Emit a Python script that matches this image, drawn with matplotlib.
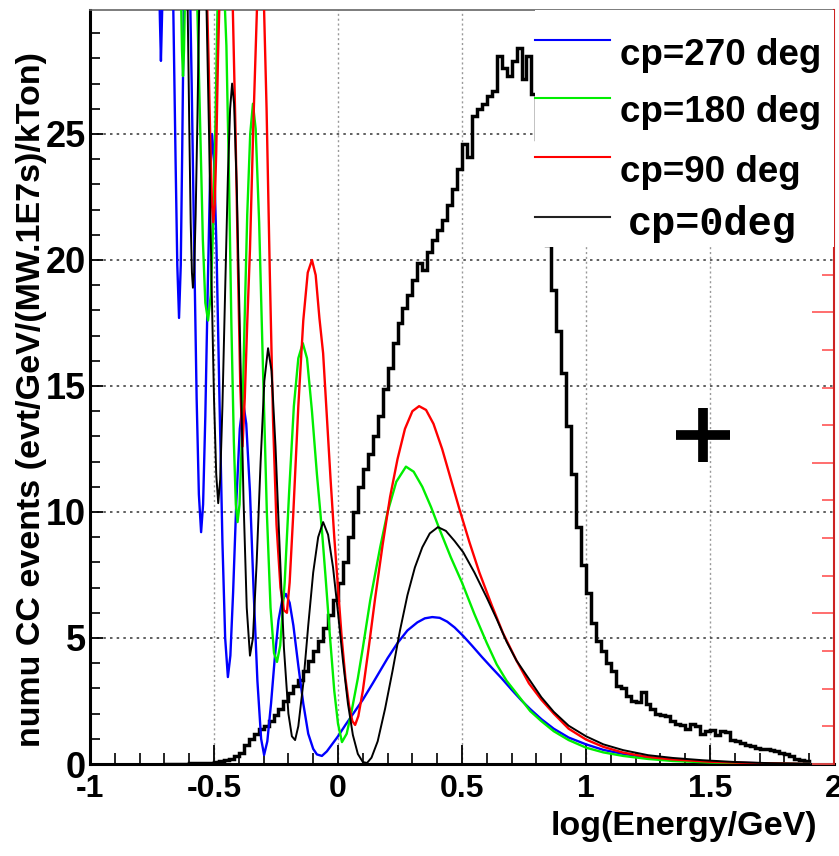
import matplotlib
matplotlib.use("Agg")
import matplotlib.pyplot as plt
import numpy as np
from matplotlib.ticker import MultipleLocator, FuncFormatter
from matplotlib.patches import Rectangle
from matplotlib.lines import Line2D

plt.rcParams['font.family'] = ['Liberation Sans', 'DejaVu Sans']
plt.rcParams['font.weight'] = 'bold'

# ---- data ----
# black step histogram (unoscillated numu CC rate), bins of 0.02 starting at -0.70
hist_start = -0.70
hist_width = 0.02
hist_vals = [
    0.0, 0.0, 0.0, 0.01, 0.01, 0.02, 0.02, 0.03, 0.04, 0.05,
    0.08, 0.1, 0.15, 0.2, 0.3, 0.45, 0.75, 1.0, 1.2, 1.4,
    1.5, 1.7, 1.95, 2.2, 2.5, 2.8, 3.1, 3.35, 3.7, 4.1,
    4.5, 4.9, 5.4, 5.9, 6.5, 7.2, 8.0, 9.0, 10.0, 11.0,
    11.7, 12.3, 13.0, 13.8, 14.9, 15.7, 16.7, 17.5, 18.1, 18.6,
    19.2, 19.9, 19.6, 20.3, 20.8, 21.2, 21.6, 22.2, 22.8, 23.6,
    24.6, 24.1, 25.7, 26.0, 26.2, 26.5, 26.7, 28.1, 27.6, 27.3,
    27.9, 28.4, 27.2, 28.1, 26.6, 24.8, 23.0, 20.6, 18.8, 17.2,
    15.5, 13.4, 11.5, 9.4, 7.9, 6.8, 5.6, 4.9, 4.5, 4.0,
    3.7, 3.1, 3.0, 2.7, 2.5, 2.45, 2.85, 2.4, 2.2, 2.0,
    1.95, 1.9, 1.7, 1.6, 1.55, 1.4, 1.6, 1.5, 1.2, 1.3,
    1.35, 1.15, 1.3, 1.25, 0.95, 0.9, 0.85, 0.75, 0.7, 0.65,
    0.6, 0.6, 0.55, 0.5, 0.45, 0.38, 0.3, 0.2, 0.15, 0.1,
]

# cp=270 deg (blue)
x270 = [-0.73, -0.722, -0.718, -0.714, -0.710, -0.705, -0.69,
        -0.675, -0.664, -0.655, -0.648, -0.641, -0.634, -0.628, -0.622, -0.61,
        -0.598, -0.59, -0.58, -0.57, -0.561, -0.552, -0.544, -0.535, -0.525, -0.516,
        -0.508, -0.5, -0.49, -0.478, -0.466, -0.455, -0.444, -0.434, -0.423, -0.41,
        -0.396, -0.383, -0.37, -0.355, -0.34, -0.325, -0.31, -0.298, -0.285, -0.27,
        -0.255, -0.24, -0.225, -0.21, -0.195, -0.18, -0.16, -0.14, -0.12, -0.1,
        -0.085, -0.065, -0.045, -0.03, 0.0, 0.03, 0.065, 0.1, 0.14, 0.17,
        0.2, 0.24, 0.28, 0.32, 0.35, 0.38, 0.41, 0.44, 0.47, 0.505,
        0.54, 0.58, 0.62, 0.66, 0.7, 0.74, 0.775, 0.82, 0.87, 0.93,
        1.0, 1.07, 1.15, 1.25, 1.35, 1.47, 1.6, 1.75, 1.9]
y270 = [33, 31.5, 29.5, 27.9, 29.5, 31.5, 34,
        33, 29.9, 24, 19.8, 17.7, 19.8, 24.5, 29.9, 33,
        31.5, 27, 20.5, 14.5, 10.7, 9.2, 10.3, 13.8, 19, 23.2,
        25.0, 24, 20.5, 14.5, 8.8, 5.0, 3.45, 4.3, 6.8, 10.4,
        13.3, 14.4, 13.5, 10.8, 6.8, 3.3, 1.0, 0.36, 0.9, 2.4,
        4.2, 5.7, 6.5, 6.75, 6.4, 5.5, 3.9, 2.4, 1.2, 0.6,
        0.38, 0.32, 0.5, 0.7, 1.1, 1.55, 2.05, 2.55, 3.2, 3.7,
        4.2, 4.8, 5.3, 5.62, 5.78, 5.83, 5.8, 5.65, 5.42, 5.08,
        4.7, 4.25, 3.82, 3.4, 2.95, 2.52, 2.18, 1.78, 1.4, 1.05,
        0.78, 0.56, 0.4, 0.26, 0.17, 0.1, 0.05, 0.02, 0.0]

# cp=180 deg (green)
x180 = [-0.73, -0.64, -0.633, -0.629, -0.625, -0.621, -0.617, -0.6,
        -0.58, -0.567, -0.555, -0.545, -0.535, -0.524, -0.513, -0.503, -0.494, -0.486,
        -0.47, -0.458, -0.45, -0.44, -0.43, -0.42, -0.412, -0.405, -0.397, -0.388,
        -0.378, -0.366, -0.354, -0.343, -0.332, -0.318, -0.302, -0.287, -0.272, -0.258,
        -0.246, -0.233, -0.215, -0.197, -0.178, -0.16, -0.142, -0.125, -0.105, -0.085,
        -0.065, -0.05, -0.032, -0.015, 0.0, 0.016, 0.035, 0.055, 0.08, 0.1,
        0.13, 0.17, 0.2, 0.235, 0.274, 0.305, 0.34, 0.375, 0.41, 0.455,
        0.5, 0.55, 0.6, 0.64, 0.68, 0.72, 0.775, 0.82, 0.87, 0.93,
        1.0, 1.07, 1.15, 1.25, 1.35, 1.5, 1.65, 1.9]
y180 = [34, 33, 30.5, 28.3, 27.3, 28.3, 30.5, 33,
        31.5, 29.9, 25, 20.8, 18.3, 17.6, 18.6, 21.5, 25.5, 29.9,
        31.5, 30.5, 28.5, 23.5, 17.5, 12.8, 10.3, 9.6, 10.3, 12.8,
        17, 21.8, 25.0, 26.2, 25.2, 21.5, 15.5, 10, 6.2, 4.4,
        4.05, 4.7, 7.2, 10.8, 14.2, 16.1, 16.7, 16.1, 14.0, 11.5,
        9.3, 7.4, 5.0, 2.9, 1.6, 0.87, 1.2, 2.1, 3.4, 4.6,
        6.5, 8.6, 10.0, 11.2, 11.8, 11.6, 11.0, 10.2, 9.3, 8.2,
        7.2, 5.95, 4.8, 3.95, 3.3, 2.8, 2.1, 1.7, 1.3, 0.95,
        0.65, 0.46, 0.32, 0.2, 0.12, 0.06, 0.03, 0.0]

# cp=90 deg (red)
x90 = [-0.73, -0.56, -0.53, -0.522, -0.514, -0.508, -0.503, -0.497, -0.491, -0.484,
       -0.476, -0.455, -0.435, -0.424, -0.413, -0.403, -0.394, -0.385, -0.376, -0.366,
       -0.355, -0.341, -0.327, -0.313, -0.298, -0.288, -0.275, -0.262, -0.248, -0.232,
       -0.218, -0.206, -0.195, -0.18, -0.16, -0.14, -0.122, -0.105, -0.09, -0.075,
       -0.06, -0.045, -0.03, -0.015, 0.0, 0.015, 0.03, 0.045, 0.058, 0.069,
       0.082, 0.1, 0.125, 0.15, 0.18, 0.21, 0.24, 0.27, 0.3, 0.327,
       0.355, 0.385, 0.42, 0.455, 0.49, 0.53, 0.57, 0.62, 0.665, 0.72,
       0.77, 0.82, 0.87, 0.93, 1.0, 1.07, 1.15, 1.25, 1.35, 1.5,
       1.65, 1.9]
y90 = [36, 35, 31, 28, 24.3, 22.2, 21.5, 22.2, 24.3, 28,
       31, 33, 31.5, 29.9, 25, 19.5, 15, 12.6, 14.5, 17.5,
       20.4, 25.5, 29.9, 31.5, 29.9, 26, 19.5, 13.65, 9.5, 7.0,
       6.1, 6.0, 7.2, 10.0, 14.2, 17.6, 19.5, 20.0, 19.4, 17.7,
       16.3, 13.8, 11.3, 9.0, 7.0, 5.0, 3.4, 2.3, 1.7, 1.55,
       1.9, 2.9, 4.7, 6.6, 8.7, 10.6, 12.1, 13.3, 14.0, 14.2,
       14.05, 13.5, 12.5, 11.3, 10.1, 8.8, 7.6, 6.3, 5.2, 4.1,
       3.2, 2.55, 2.0, 1.4, 0.97, 0.68, 0.45, 0.28, 0.18, 0.09,
       0.04, 0.0]

# cp=0 deg (black, smooth)
x0 = [-0.73, -0.62, -0.606, -0.6, -0.594, -0.589, -0.585, -0.58, -0.574, -0.567,
      -0.56, -0.545, -0.53, -0.52, -0.51, -0.5, -0.491, -0.483, -0.475, -0.466,
      -0.455, -0.444, -0.435, -0.427, -0.419, -0.408, -0.395, -0.381, -0.368, -0.355,
      -0.343, -0.328, -0.312, -0.297, -0.282, -0.268, -0.252, -0.235, -0.218, -0.2,
      -0.186, -0.173, -0.16, -0.14, -0.12, -0.1, -0.08, -0.06, -0.04, -0.02,
      0.0, 0.02, 0.04, 0.06, 0.08, 0.1, 0.117, 0.135, 0.16, 0.19,
      0.22, 0.25, 0.28, 0.31, 0.34, 0.37, 0.403, 0.435, 0.47, 0.505,
      0.55, 0.6, 0.64, 0.68, 0.72, 0.775, 0.82, 0.87, 0.93, 1.0,
      1.07, 1.15, 1.25, 1.35, 1.47, 1.6, 1.75, 1.9]
y0 = [35, 33, 29.9, 25.5, 21.5, 19.5, 18.9, 19.5, 21.8, 25.5,
      29.9, 32, 29.9, 25, 19.2, 14.5, 11.5, 10.35, 11.3, 14.2,
      18.8, 23.3, 26.0, 27.0, 26.2, 22.8, 16.8, 10.5, 6.2, 4.3,
      5.0, 8.0, 12.0, 15.2, 16.5, 15.6, 12.6, 8.5, 4.6, 2.0,
      1.1, 0.95, 1.5, 3.2, 5.5, 7.6, 9.0, 9.6, 9.1, 7.8,
      6.0, 4.1, 2.4, 1.15, 0.4, 0.08, 0.04, 0.25, 0.9, 2.2,
      3.7, 5.3, 6.7, 7.8, 8.6, 9.15, 9.4, 9.25, 8.85, 8.4,
      7.6, 6.6, 5.75, 4.85, 4.1, 3.3, 2.65, 2.07, 1.52, 1.1,
      0.78, 0.55, 0.35, 0.24, 0.15, 0.08, 0.03, 0.0]

labels = ["cp=270 deg", "cp=180 deg", "cp=90 deg", "cp=0deg"]
colors = ["#0000ff", "#00ee00", "#ff0000", "#222222"]

# ---- figure ----
fig = plt.figure(figsize=(8.39, 8.56), dpi=100)
ax = fig.add_axes([90 / 839, 92 / 856, 744 / 839, 754 / 856])

edges = hist_start + hist_width * np.arange(len(hist_vals) + 1)
ax.stairs(hist_vals, edges, color="black", lw=2.5, zorder=3)

ax.plot(x270, y270, color=colors[0], lw=1.7, zorder=4)
ax.plot(x180, y180, color=colors[1], lw=1.7, zorder=4)
ax.plot(x90, y90, color=colors[2], lw=1.7, zorder=4)
ax.plot(x0, y0, color="black", lw=1.4, zorder=4)

# the big cross
ax.plot([1.47], [13.05], marker="+", ms=39, mew=7, color="black", zorder=4)

ax.set_xlim(-1, 2)
ax.set_ylim(0, 29.92)

ax.xaxis.set_major_locator(MultipleLocator(0.5))
ax.xaxis.set_minor_locator(MultipleLocator(0.1))
ax.yaxis.set_major_locator(MultipleLocator(5))
ax.yaxis.set_minor_locator(MultipleLocator(1))
ax.xaxis.set_major_formatter(FuncFormatter(lambda v, p: f"{v:g}"))

ax.tick_params(axis="x", which="major", direction="in", length=14, width=1.3,
               labelsize=23, pad=7, top=False)
ax.tick_params(axis="x", which="minor", direction="in", length=8, width=1.2, top=False)
ax.tick_params(axis="y", which="major", direction="in", length=9, width=1.3,
               labelsize=26, pad=3, right=False)
ax.tick_params(axis="y", which="minor", direction="in", length=7, width=1.2, right=False)

ax.xaxis.grid(True, which="major", color="#999999", ls=(0, (1.5, 2)), lw=1.0)
ax.yaxis.grid(True, which="major", color="#444444", ls=(0, (1.5, 2.5)), lw=1.2)

for s in ["left", "bottom"]:
    ax.spines[s].set_linewidth(2.2)
ax.spines["top"].set_color("#666666")
ax.spines["top"].set_linewidth(1.2)
ax.spines["right"].set_visible(False)

ax.set_ylabel("numu CC events (evt/GeV/(MW.1E7s)/kTon)", fontsize=24.5, fontweight="bold")
ax.yaxis.set_label_coords(-0.058, 0.483)
ax.set_xlabel("log(Energy/GeV)", fontsize=24.5, fontweight="bold", ha="right")
ax.xaxis.set_label_coords(0.978, -0.062)

# red right-hand axis (ticks only)
ax2 = ax.twinx()
ax2.set_ylim(0, 5.007)
ax2.yaxis.set_major_locator(MultipleLocator(1))
ax2.yaxis.set_minor_locator(MultipleLocator(0.25))
ax2.tick_params(axis="y", which="major", direction="in", length=16, width=1.2,
                color="#ff5555", labelright=False)
ax2.tick_params(axis="y", which="minor", direction="in", length=8.5, width=1.2,
                color="#ff5555")
for s in ["left", "bottom", "top"]:
    ax2.spines[s].set_visible(False)
ax2.spines["right"].set_color("#cc2222")
ax2.spines["right"].set_linewidth(1.5)

# legend box drawn by hand (white box, line samples and labels)
ax2.add_patch(Rectangle((0.598, 0.6857), 0.402, 0.3143, transform=ax.transAxes,
                        facecolor="white", edgecolor="none", zorder=5))
line_y = [0.9602, 0.8833, 0.8050, 0.7255]
text_y = [0.9403, 0.8647, 0.7851, 0.7162]
for i in range(4):
    ax2.add_line(Line2D([0.598, 0.699], [line_y[i], line_y[i]], transform=ax.transAxes,
                        color=colors[i], lw=1.5, zorder=6))
    if i < 3:
        ax2.text(0.7124, text_y[i], labels[i], transform=ax.transAxes, fontsize=26.5,
                 fontweight="bold", va="center", ha="left", zorder=7)
    else:
        ax2.text(0.7230, text_y[i], labels[i], transform=ax.transAxes, fontsize=29,
                 fontweight="bold", family=["Liberation Mono", "DejaVu Sans Mono"],
                 va="center", ha="left", zorder=7)

fig.savefig("out.png", dpi=100)
